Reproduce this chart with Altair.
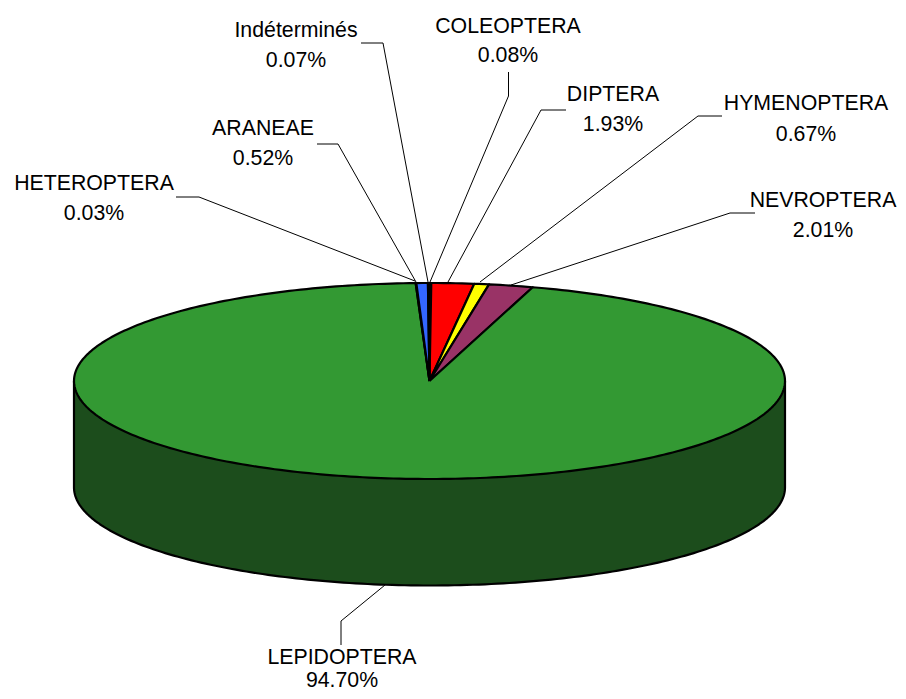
import math
import altair as alt
import pandas as pd

# clockwise from 12 o'clock
names = ["COLEOPTERA", "DIPTERA", "HYMENOPTERA", "NEVROPTERA", "LEPIDOPTERA",
         "HETEROPTERA", "ARANEAE", "Indéterminés"]
shares = [0.08, 1.93, 0.67, 2.01, 94.70, 0.03, 0.52, 0.07]
fills = ["#FF0000", "#FF0000", "#FFFF00", "#993366", "#339933", "#3366FF", "#3366FF", "#3366FF"]
share_labels = ["0.08%", "1.93%", "0.67%", "2.01%", "94.70%", "0.03%", "0.52%", "0.07%"]
label_x = [508, 613, 806, 823, 342, 94, 263, 296]
label_y_name = [26.5, 94.5, 103.5, 200.5, 658, 183.5, 128.5, 30.5]
label_y_share = [55.5, 124.5, 134.5, 230.5, 681, 213.5, 158.5, 60.5]
leader_x = [[508.5, 508.5, 430], [566, 541, 448], [722, 698, 480], [755, 730, 511],
            [341, 341, 385], [176, 199, 415], [317, 338, 416], [361, 383, 428]]
leader_y = [[72, 96, 282], [110, 110, 282], [116, 116, 282], [213, 213, 285],
            [645, 621, 585], [197, 197, 281], [144, 144, 282], [43, 43, 282]]

CX, CY, RX, RY, DEPTH = 429.5, 381, 355.5, 98, 106.5
W, H = 890, 686

x_scale = alt.Scale(domain=[8, 8 + W], range=[0, W], nice=False, zero=False)
y_scale = alt.Scale(domain=[8, 8 + H], range=[0, H], nice=False, zero=False)


def rim(deg, dy=0.0):
    a = math.radians(deg)
    return CX + RX * math.sin(a), CY - RY * math.cos(a) + dy


def path_layer(points, fill):
    df = pd.DataFrame({"i": range(len(points)),
                       "x": [p[0] for p in points],
                       "y": [p[1] for p in points]})
    return alt.Chart(df).mark_line(
        fill=fill, stroke="black", strokeWidth=2.2, strokeJoin="round", interpolate="linear"
    ).encode(
        x=alt.X("x:Q", scale=x_scale, axis=None),
        y=alt.Y("y:Q", scale=y_scale, axis=None),
        order=alt.Order("i:Q"),
    )


total = sum(shares)
layers = []

# side wall
side = [(CX - RX, CY)]
side += [rim(d, DEPTH) for d in range(270, 89, -1)]
side += [(CX + RX, CY), (CX - RX, CY)]
layers.append(path_layer(side, "#1C4D1C"))

# top slices
start = 0.0
for name, share, fill in zip(names, shares, fills):
    sweep = 360 * share / total
    n = max(2, int(sweep) + 2)
    pts = [(CX, CY)]
    pts += [rim(start + sweep * k / (n - 1)) for k in range(n)]
    pts.append((CX, CY))
    layers.append(path_layer(pts, fill))
    start += sweep

# leader lines
rows = []
for name, xs, ys in zip(names, leader_x, leader_y):
    for k, (x, y) in enumerate(zip(xs, ys)):
        rows.append({"name": name, "k": k, "x": x, "y": y})
leaders = alt.Chart(pd.DataFrame(rows)).mark_line(color="black", strokeWidth=1).encode(
    x=alt.X("x:Q", scale=x_scale, axis=None),
    y=alt.Y("y:Q", scale=y_scale, axis=None),
    detail="name:N",
    order=alt.Order("k:Q"),
)
layers.append(leaders)

# labels
rows = []
for name, pct, x, y1, y2 in zip(names, share_labels, label_x, label_y_name, label_y_share):
    rows.append({"t": name, "x": x, "y": y1})
    rows.append({"t": pct, "x": x, "y": y2})
labels = alt.Chart(pd.DataFrame(rows)).mark_text(
    font="Liberation Sans", fontSize=21.3, color="black", align="center", baseline="middle"
).encode(
    x=alt.X("x:Q", scale=x_scale, axis=None),
    y=alt.Y("y:Q", scale=y_scale, axis=None),
    text="t:N",
)
layers.append(labels)

chart = alt.layer(*layers).properties(
    width=W, height=H, padding=0,
    autosize=alt.AutoSizeParams(type="none"),
    background="white",
).configure_view(stroke=None)

chart.save("out.html", embed_options={"renderer": "svg", "actions": False})
